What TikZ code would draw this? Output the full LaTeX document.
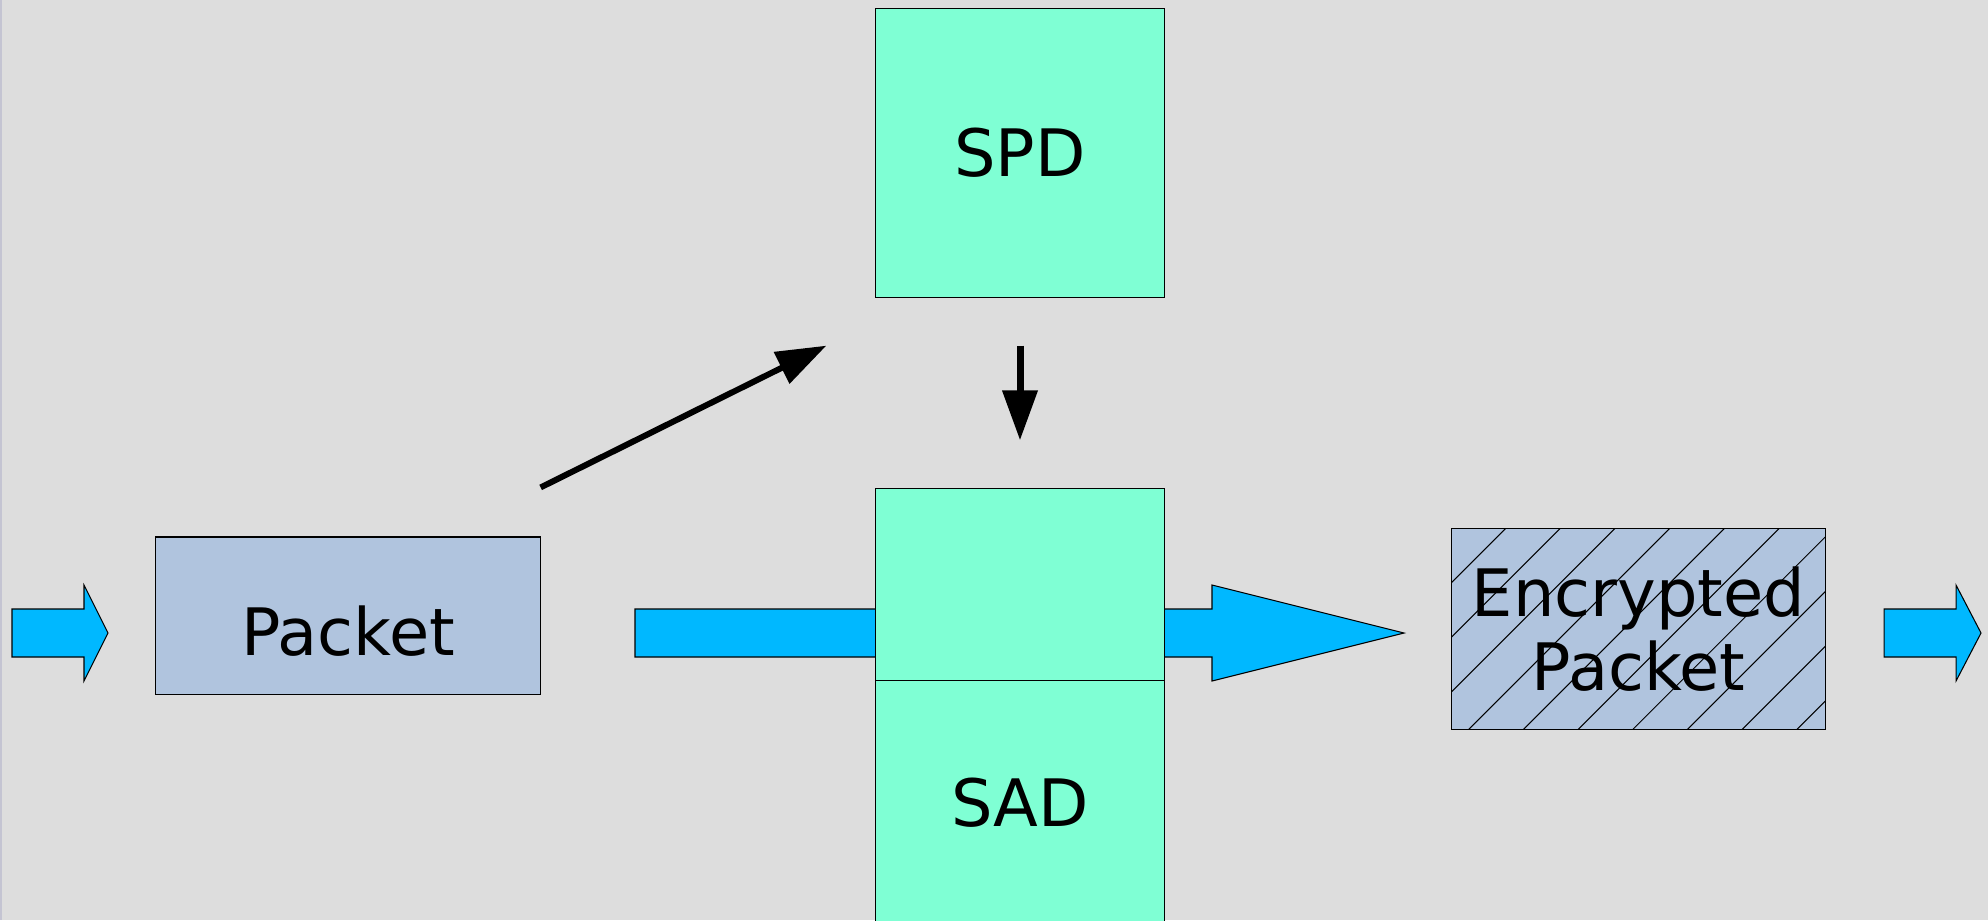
\documentclass[tikz,border=0pt]{standalone}
\usepackage{fontspec}
\setmainfont{DejaVu Sans}
\usetikzlibrary{arrows.meta}
\definecolor{canvas}{HTML}{DDDDDD}
\definecolor{aqua}{HTML}{7FFFD4}
\definecolor{steel}{HTML}{B0C4DE}
\definecolor{sky}{HTML}{00B8FF}
\definecolor{rim}{HTML}{C4C4D2}

\begin{document}
\begin{tikzpicture}[x=0.01cm, y=-0.01cm,
    every node/.style={font=\fontsize{18.6}{21}\selectfont},
    box/.style={rectangle, draw=black, line width=0.3pt, inner sep=0pt, align=center},
    db/.style={box, fill=aqua, minimum width=2.88cm},
    pkt/.style={box, fill=steel},
    % diagonal hatching, measured from the box centre
    hatched/.style={path picture={
        \foreach \k in {-1,...,10}
            \draw[line width=0.3pt]
                ([shift={(-344.5+\k*54.7,111)}]path picture bounding box.center)
                -- ([shift={(-124.5+\k*54.7,-109)}]path picture bounding box.center);}},
    flow/.style={draw=black, line width=0.3pt, fill=sky},
    link/.style={-{Triangle[length=0.5cm, width=0.34cm]}, line width=0.06cm},
]
\useasboundingbox (0,0) rectangle (1988,920);
\fill[canvas] (0,0) rectangle (1988,920);
\draw[rim, line width=0.015cm] (0.75,0) -- (0.75,920);

% Main data path, runs behind the databases
\draw[flow] (635,609) -- (1212,609) -- (1212,585) -- (1404,633)
    -- (1212,681) -- (1212,657) -- (635,657) -- cycle;

% Databases
\node[db, minimum height=2.88cm] (spd) at (1020,153) {SPD};
\node[db, minimum height=1.92cm] (sadtop) at (1020,585) {};
\node[db, minimum height=2.44cm] (sad) at (1020,803) {SAD};

% Packets
\node[pkt, minimum width=3.84cm, minimum height=1.57cm,
    label={[yshift=-0.155cm]center:Packet}] (packet) at (348,615.5) {};
\node[pkt, hatched, minimum width=3.73cm, minimum height=2cm] (enc) at (1638.5,629)
    {Encrypted\\Packet};

% In and out
\draw[flow] (12,609) -- (84,609) -- (84,585) -- (108,633)
    -- (84,681) -- (84,657) -- (12,657) -- cycle;
\draw[flow] (1884,609) -- (1956,609) -- (1956,585) -- (1981,633)
    -- (1956,681) -- (1956,657) -- (1884,657) -- cycle;

% Lookups
\coordinate (qtail) at ([yshift=0.49cm]packet.north east);
\coordinate (qhead) at ([xshift=-0.49cm, yshift=-0.48cm]spd.south west);
\draw[link] (qtail) -- (qhead);

\coordinate (rtail) at ([yshift=-0.48cm]spd.south);
\coordinate (rhead) at ([yshift=0.48cm]sadtop.north);
\draw[link, line width=0.07cm] (rtail) -- (rhead);
\end{tikzpicture}
\end{document}
